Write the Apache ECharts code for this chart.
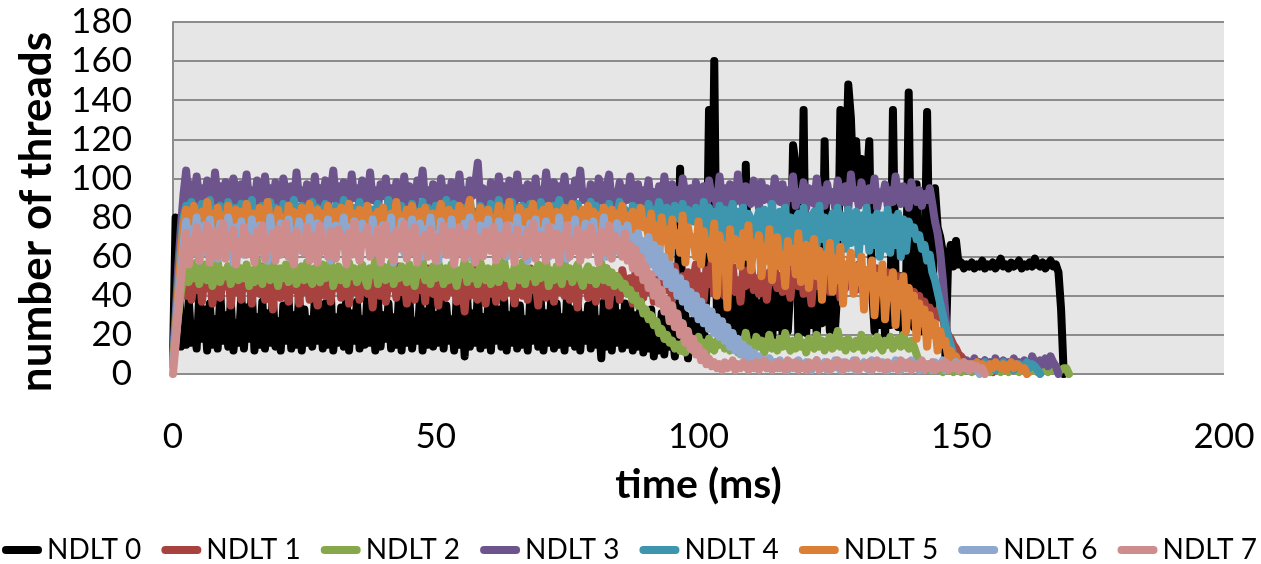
<!DOCTYPE html>
<html>
<head>
<meta charset="utf-8">
<style>
html,body{margin:0;padding:0;background:#fff;}
#chart{width:1261px;height:564px;}
</style>
<script src="https://cdn.jsdelivr.net/npm/echarts@6/dist/echarts.min.js"></script>
</head>
<body>
<div id="chart"></div>
<script>
// sampling step of every series (ms)
const STEP_MS = 0.5;
const seriesNames = ['NDLT 0','NDLT 1','NDLT 2','NDLT 3','NDLT 4','NDLT 5','NDLT 6','NDLT 7'];
const xTicks = [0, 50, 100, 150, 200];
const yTicks = [0, 20, 40, 60, 80, 100, 120, 140, 160, 180];

// each row = 5 ms (10 samples)
const ndlt0 = [
 8,80,78,14,30,15,38,16,25,13,
 40,18,33,12,36,15,28,13,41,17,
 30,14,37,12,26,16,39,13,34,18,
 42,12,29,15,37,13,31,16,40,14,
 27,12,35,17,38,13,30,15,41,12,
 33,16,28,14,39,17,32,13,36,15,
 43,12,29,16,34,14,40,12,31,17,
 37,13,28,15,41,16,33,12,38,14,
 30,18,36,13,29,15,40,12,34,16,
 38,13,27,17,39,12,32,15,42,14,
 30,16,37,13,35,17,28,12,40,15,
 33,9,38,14,31,16,41,13,29,15,
 36,12,39,17,33,14,38,12,30,16,
 42,13,35,15,28,12,40,17,34,14,
 37,12,31,16,39,13,36,15,29,12,
 41,16,33,14,38,12,30,17,35,13,
 42,15,28,8,37,14,33,12,39,16,
 31,13,36,15,34,12,30,14,37,11,
 28,13,33,9,25,12,31,10,27,14,
 22,9,30,105,12,30,8,27,14,33,
 10,38,16,40,135,45,160,30,48,18,
 42,20,50,17,44,22,38,19,107,40,
 18,47,21,36,19,45,23,50,17,41,
 24,48,20,39,22,46,117,107,18,44,
 135,21,49,25,47,20,43,26,119,45,
 22,50,24,46,135,92,96,148,131,94,
 119,90,110,88,96,119,45,22,48,25,
 44,20,46,25,135,47,24,50,21,43,
 144,40,24,97,45,22,48,134,42,30,
 95,75,70,62,8,58,66,55,68,56,
 57,54,56,55,57,54,56,55,58,54,
 56,55,57,54,56,59,55,56,54,57,
 55,56,58,54,56,55,57,55,59,56,
 55,57,54,56,58,55,56,52,33,0
];
const ndlt1 = [
 8,20,32,42,48,40,52,38,47,43,
 54,37,49,44,51,36,46,53,39,48,
 45,55,35,50,42,47,38,53,44,49,
 36,52,46,41,55,38,48,44,33,50,
 47,39,53,45,37,51,43,49,36,54,
 42,48,38,52,45,35,50,46,40,55,
 37,49,44,51,39,47,53,36,48,42,
 50,38,54,45,41,49,34,52,46,40,
 53,37,47,44,51,39,55,42,48,36,
 49,45,38,52,43,50,37,54,46,41,
 48,35,51,44,39,53,42,47,37,50,
 45,32,49,40,54,43,38,51,46,36,
 52,41,47,37,55,44,39,50,42,48,
 36,53,45,40,49,38,54,43,47,35,
 51,44,39,52,46,37,48,42,55,40,
 47,38,53,45,34,50,43,49,39,52,
 44,37,51,46,40,54,35,48,42,50,
 38,53,45,41,49,36,52,44,47,39,
 54,42,48,37,51,45,40,53,43,49,
 38,55,46,41,50,44,52,39,48,56,
 43,50,38,53,46,57,41,49,45,54,
 40,51,47,55,42,48,37,53,45,50,
 56,43,49,41,54,46,38,52,47,55,
 44,50,42,57,46,39,53,48,45,55,
 41,52,47,36,54,45,50,43,56,48,
 42,53,46,51,39,55,44,49,47,52,
 43,56,48,41,53,46,50,44,54,47,
 49,42,52,45,48,40,50,43,46,41,
 44,38,42,35,40,33,37,30,34,31,
 32,29,30,28,24,20,18,15,13,10,
 9,7,6,5,4,3,4,3,2,3,
 2,2,1
];
const ndlt2 = [
 6,18,30,42,50,55,47,53,49,57,
 46,52,56,48,54,45,51,58,47,53,
 50,55,46,52,57,48,54,49,56,45,
 53,47,58,50,46,55,51,48,57,52,
 45,54,49,56,47,53,58,46,51,55,
 48,57,50,46,54,52,47,56,49,53,
 58,45,51,55,48,53,46,57,50,54,
 47,52,56,49,45,54,51,58,46,53,
 55,48,50,57,46,53,49,55,52,47,
 56,50,45,54,51,58,48,53,46,55,
 49,57,52,46,54,48,56,50,45,53,
 51,58,47,55,49,52,46,57,53,48,
 54,46,50,56,47,53,58,49,52,45,
 55,51,48,57,46,54,50,53,47,56,
 49,52,58,45,53,48,55,51,46,57,
 50,54,47,53,56,49,45,52,55,48,
 53,46,51,57,48,54,47,52,45,50,
 48,44,46,41,43,38,40,35,37,31,
 33,28,30,25,27,21,23,18,20,16,
 17,13,15,12,16,11,14,17,12,15,
 19,13,16,11,18,14,12,17,15,20,
 13,16,12,18,14,11,17,15,21,13,
 16,12,19,14,17,11,15,20,13,16,
 12,18,14,21,15,12,17,13,19,14,
 16,11,18,15,13,20,14,17,12,16,
 19,13,15,22,14,17,12,18,15,13,
 17,14,20,12,16,18,13,15,19,14,
 12,17,15,19,13,16,18,14,20,15,
 13,17,14,10,6,4,3,4,2,3,
 2,3,2,1,2,3,2,1,2,2,
 1,2,3,2,1,2,2,1,3,2,
 2,1,2,3,2,1,2,2,1,2,
 3,2,1,2,2,3,1,2,2,1,
 2,3,2,1,2,2,3,2,2,3,
 3,0
];
const ndlt3 = [
 10,30,55,75,92,104,88,97,85,101,
 90,95,86,99,92,87,103,89,96,84,
 98,91,87,100,93,85,97,90,102,88,
 94,86,99,92,85,101,89,95,87,98,
 91,84,100,93,88,96,86,103,90,94,
 85,97,92,88,101,86,95,90,99,87,
 93,104,89,96,85,98,91,87,102,90,
 95,86,99,92,88,103,89,94,85,97,
 91,100,87,95,84,98,93,89,101,86,
 96,90,85,99,92,104,88,94,87,97,
 93,86,100,90,95,85,98,91,88,102,
 89,94,86,99,91,97,108,87,95,90,
 86,98,92,88,101,89,96,85,99,93,
 87,102,90,95,85,97,91,88,100,86,
 94,89,103,92,87,98,85,96,90,101,
 88,95,86,99,92,104,89,93,87,97,
 91,85,100,94,88,96,102,87,93,90,
 98,86,95,89,101,92,87,97,84,94,
 90,99,86,93,88,96,85,101,91,87,
 97,89,94,86,100,92,88,95,85,98,
 91,87,96,84,99,90,93,86,101,89,
 95,85,97,91,88,102,90,86,96,92,
 87,99,93,85,98,89,95,91,86,100,
 92,88,97,84,94,90,101,86,93,89,
 98,85,95,91,87,100,90,94,86,97,
 89,93,85,99,91,88,96,84,102,90,
 94,86,98,91,87,95,89,100,85,93,
 90,97,86,94,88,101,92,87,96,90,
 85,98,91,88,94,86,92,89,95,87,
 78,72,62,48,30,12,7,5,8,4,
 6,3,7,5,4,8,3,6,5,7,
 4,6,3,8,5,4,7,3,6,5,
 8,4,6,3,7,5,4,9,6,3,
 7,5,8,4,9,6,4,0
];
const ndlt4 = [
 8,25,45,65,80,86,75,88,79,84,
 73,87,81,76,89,78,83,74,86,80,
 77,88,82,75,85,79,87,73,84,81,
 89,76,83,78,86,74,82,88,77,85,
 80,73,87,79,84,76,89,81,75,86,
 78,83,74,88,80,85,77,82,87,75,
 84,79,86,73,82,89,76,83,78,85,
 74,88,81,77,86,79,84,75,87,80,
 83,76,89,78,85,73,82,86,77,84,
 79,87,75,83,80,88,74,85,81,77,
 86,78,84,76,89,80,75,87,82,79,
 73,85,81,88,77,83,79,86,74,84,
 80,87,76,82,89,78,85,75,83,88,
 77,84,80,86,73,81,87,79,85,76,
 88,82,75,84,80,86,78,89,81,74,
 85,79,83,77,87,80,76,84,82,88,
 75,86,81,78,85,79,87,74,83,80,
 88,77,84,82,76,86,80,85,78,83,
 81,87,75,84,79,88,82,76,85,80,
 77,86,83,79,87,74,84,81,78,85,
 82,70,88,74,85,68,83,72,86,71,
 84,69,81,87,70,83,73,85,67,82,
 79,66,78,83,70,84,68,77,87,69,
 76,83,65,85,71,80,66,79,82,68,
 85,64,81,70,83,66,86,69,80,63,
 77,82,62,85,70,81,64,84,67,80,
 83,61,81,68,85,63,80,66,82,60,
 81,64,84,62,80,66,82,60,79,63,
 78,72,75,69,71,64,66,58,61,52,
 48,42,36,30,24,19,15,10,7,5,
 4,6,3,5,4,2,5,3,4,6,
 3,5,4,2,5,3,6,4,3,5,
 2,4,5,3,4,6,3,5,4,2,
 0
];
const ndlt5 = [
 6,22,42,62,76,84,74,80,86,72,
 79,83,75,88,77,82,73,85,78,81,
 74,86,79,72,84,77,83,75,87,80,
 76,82,73,85,79,74,88,78,81,75,
 84,77,80,72,86,79,83,74,78,85,
 73,81,87,76,79,84,72,82,77,86,
 80,74,83,78,85,73,79,87,75,82,
 77,84,72,80,86,76,81,74,83,78,
 85,73,79,82,75,88,77,81,74,84,
 78,86,72,80,83,76,85,79,73,82,
 75,81,87,74,79,84,77,82,72,86,
 80,76,83,89,73,81,78,85,75,79,
 84,72,80,77,86,74,82,79,88,76,
 81,75,85,78,73,83,80,87,74,82,
 77,84,72,86,79,75,83,78,81,85,
 74,80,87,76,82,73,84,79,86,77,
 83,75,81,78,85,72,80,84,76,82,
 79,86,74,81,77,83,72,80,85,75,
 78,70,82,64,76,60,80,68,74,58,
 79,66,72,62,81,57,75,67,70,60,
 78,56,73,64,68,59,77,40,71,61,
 66,34,74,58,69,63,55,72,60,76,
 53,67,62,71,50,65,58,74,48,63,
 70,55,61,45,68,57,64,51,72,47,
 60,66,44,58,69,50,63,38,61,54,
 67,42,59,48,65,36,56,52,62,41,
 55,47,60,33,53,45,58,30,50,42,
 56,28,48,40,52,25,46,35,50,22,
 44,30,40,18,36,26,33,14,30,20,
 26,12,22,15,17,9,12,7,9,5,
 4,6,3,5,2,4,6,3,5,4,
 2,5,3,6,4,3,5,2,4,6,
 3,5,4,2,3,0
];
const ndlt6 = [
 4,18,36,52,66,78,60,74,64,80,
 58,72,76,62,79,66,70,59,77,68,
 63,80,71,57,75,65,78,61,73,67,
 79,60,69,76,62,74,58,80,66,72,
 61,77,68,64,79,59,73,70,78,63,
 75,66,80,60,71,77,62,74,67,79,
 58,72,76,65,69,80,61,75,63,78,
 70,59,77,68,73,62,79,66,74,60,
 76,64,71,80,57,73,67,78,62,75,
 69,79,63,72,77,60,74,66,80,65,
 71,58,78,67,75,61,79,64,73,70,
 62,77,68,80,59,74,66,76,63,72,
 79,65,70,61,78,67,73,60,76,69,
 64,80,62,74,71,58,77,68,79,63,
 73,66,78,60,75,70,62,80,67,72,
 59,76,69,79,64,73,61,77,66,74,
 78,63,71,67,80,60,75,65,72,77,
 62,74,68,76,64,70,60,72,63,68,
 58,70,56,66,52,64,50,60,46,56,
 44,52,40,49,37,46,34,42,31,40,
 28,37,26,34,23,32,21,29,19,27,
 17,24,14,21,12,18,10,15,8,13,
 7,11,5,9,4,7,3,8,5,6,
 3,7,4,5,2,6,4,3,7,5,
 3,6,4,2,5,7,3,4,6,2,
 5,3,7,4,2,6,5,3,4,7,
 2,5,4,6,3,2,7,4,5,3,
 6,4,2,5,3,7,4,2,6,3,
 4,7,3,5,2,6,4,3,5,2,
 6,3,4,7,2,5,3,4,6,2,
 4,3,5,2,4,3,2,0
];
const ndlt7 = [
 0,15,32,48,60,72,56,68,62,75,
 58,70,64,76,57,69,73,60,66,77,
 59,71,65,74,56,68,62,75,61,70,
 67,57,73,63,76,59,69,64,72,58,
 74,61,66,77,60,70,56,73,65,68,
 62,75,58,69,71,57,76,63,67,60,
 73,64,59,74,66,70,56,72,61,77,
 65,58,71,67,75,60,69,62,74,57,
 68,76,61,70,58,73,64,66,77,59,
 72,62,75,57,69,65,71,60,74,63,
 58,70,66,76,61,68,73,56,67,75,
 64,59,72,62,77,57,70,66,60,73,
 69,63,75,58,71,67,61,76,64,70,
 57,74,65,69,60,73,62,77,59,68,
 71,64,58,75,66,61,72,57,70,65,
 76,60,68,63,74,58,69,72,61,75,
 64,70,57,73,66,62,76,59,71,65,
 68,60,72,58,66,54,64,52,60,48,
 55,44,51,40,47,36,43,32,38,27,
 35,24,31,20,26,16,22,13,18,10,
 14,7,11,5,8,4,6,3,5,2,
 6,3,4,7,2,5,3,6,4,2,
 5,3,6,2,4,7,3,5,2,4,
 6,3,5,2,7,4,3,6,2,5,
 4,2,6,3,5,7,2,4,3,6,
 2,5,4,7,3,2,6,4,5,3,
 7,2,4,5,3,6,2,4,7,3,
 5,2,6,4,3,5,2,7,4,3,
 6,2,5,3,4,7,2,5,3,6,
 2,4,5,3,6,2,4,3,5,2,
 4,6,3,2,5,3,4,2,3,0
];

const seriesValues = [ndlt0, ndlt1, ndlt2, ndlt3, ndlt4, ndlt5, ndlt6, ndlt7];
const colors = ['#000000','#A8423F','#87A84A','#6E548D','#3D96AE','#DA7F35','#8EA7CE','#CE8C8C'];

const chart = echarts.init(document.getElementById('chart'), null, {renderer: 'canvas'});
const series = seriesNames.map((name, k) => ({
  name: name,
  type: 'line',
  data: seriesValues[k].map((v, i) => [i * STEP_MS, v]),
  showSymbol: false,
  symbol: 'none',
  lineStyle: {width: 8, color: colors[k], join: 'round', cap: 'round'},
  itemStyle: {color: colors[k]},
  emphasis: {disabled: true},
  animation: false
}));

chart.setOption({
  animation: false,
  backgroundColor: '#ffffff',
  grid: {left: 173, right: 37, top: 22, bottom: 190, show: true, backgroundColor: '#e6e6e6', borderWidth: 0},
  xAxis: {
    type: 'value', min: xTicks[0], max: xTicks[xTicks.length - 1], interval: 50,
    axisLine: {show: false}, axisTick: {show: false}, splitLine: {show: false},
    axisLabel: {color: '#000', fontFamily: 'Lato', fontSize: 35, margin: 45},
    name: 'time (ms)', nameLocation: 'middle', nameGap: 90,
    nameTextStyle: {color: '#000', fontFamily: 'Lato', fontWeight: 'bold', fontSize: 41}
  },
  yAxis: {
    type: 'value', min: yTicks[0], max: yTicks[yTicks.length - 1], interval: 20,
    axisLine: {show: true, lineStyle: {color: '#8c8c8c', width: 2}},
    axisTick: {show: false},
    splitLine: {show: true, lineStyle: {color: '#8c8c8c', width: 2}},
    axisLabel: {color: '#000', fontFamily: 'Lato', fontSize: 35, margin: 41}
  },
  legend: {
    data: seriesNames, left: -3, top: 531, width: 1400, itemWidth: 40, itemHeight: 8, itemGap: 20,
    icon: 'path://M4,0 L36,0 A4,4 0 0 1 36,8 L4,8 A4,4 0 0 1 4,0 Z',
    textStyle: {color: '#000', fontFamily: 'Lato', fontSize: 28},
    selectedMode: false
  },
  graphic: [{
    type: 'text', x: 37, y: 212, rotation: Math.PI / 2,
    style: {text: 'number of threads', font: 'bold 44px Lato', fill: '#000', align: 'center', verticalAlign: 'middle'}
  }],
  series: series
});
</script>
</body>
</html>
